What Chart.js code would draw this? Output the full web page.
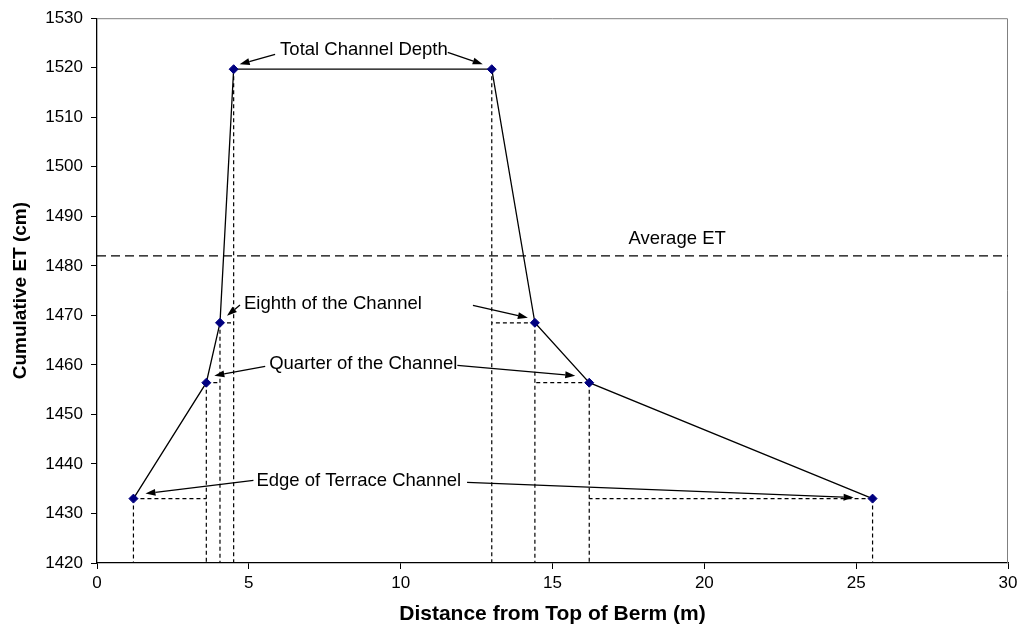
<!DOCTYPE html>
<html>
<head>
<meta charset="utf-8">
<script src="https://cdn.jsdelivr.net/npm/chart.js@4"></script>
<style>
  body { margin: 0; background: #fff; }
  #etChart { display: block; }
</style>
</head>
<body>
<canvas id="etChart" width="1023" height="635"></canvas>
<script>
// cross-section of the terrace channel, left edge to right edge
const distance = [1.2, 3.6, 4.05, 4.5, 13.0, 14.42, 16.21, 25.54];
const cumulativeET = [1433, 1456.4, 1468.5, 1519.7, 1519.7, 1468.5, 1456.4, 1433];
// index of the point whose distance each horizontal guide runs to (null = none)
const guideTo = [1, 2, 3, null, null, 4, 5, 6];
const averageET = 1482;

const xMin = 0, xMax = 30, xStep = 5;
const yMin = 1420, yMax = 1530, yStep = 10;

// callouts: text anchored by its left edge, arrows point at channel points
const callouts = [
  { text: 'Total Channel Depth', x: 6.03, y: 1523.5, arrows: [
    { from: 'left', dx: -5, dy: 4, to: 3, tip: [6, -5] },
    { from: 'right', dx: 0, dy: 2, to: 4, tip: [-9, -5] }
  ] },
  { text: 'Eighth of the Channel', x: 4.84, y: 1472.3, arrows: [
    { from: 'left', dx: -4, dy: 1, to: 2, tip: [7, -7] },
    { from: [12.38, 1472], to: 5, tip: [-7, -5] }
  ] },
  { text: 'Quarter of the Channel', x: 5.67, y: 1460.1, arrows: [
    { from: 'left', dx: -4, dy: 2, to: 1, tip: [8, -7] },
    { from: 'right', dx: 0, dy: 1, to: 6, tip: [-14, -7] }
  ] },
  { text: 'Edge of Terrace Channel', x: 5.25, y: 1436.5, arrows: [
    { from: 'left', dx: -3, dy: -1, to: 0, tip: [12, -5] },
    { from: 'right', dx: 6, dy: 1, to: 7, tip: [-19, -1] }
  ] },
  { text: 'Average ET', x: 17.5, y: 1485.5, arrows: [] }
];

const FONT = "'Liberation Sans', Arial, sans-serif";

document.addEventListener('DOMContentLoaded', () => {
  const points = distance.map((x, i) => ({ x, y: cumulativeET[i] }));

  // dashed drop lines to the axis plus the short horizontal guides
  const guides = [];
  distance.forEach((x, i) => {
    guides.push({ x, y: cumulativeET[i] }, { x, y: yMin }, { x, y: null });
    if (guideTo[i] !== null) {
      guides.push({ x, y: cumulativeET[i] }, { x: distance[guideTo[i]], y: cumulativeET[i] }, { x, y: null });
    }
  });

  const drawArrow = (ctx, x1, y1, x2, y2) => {
    const ang = Math.atan2(y2 - y1, x2 - x1);
    const len = 10, half = 3.5;
    const bx = x2 - len * Math.cos(ang), by = y2 - len * Math.sin(ang);
    ctx.beginPath();
    ctx.moveTo(x1, y1);
    ctx.lineTo(bx, by);
    ctx.stroke();
    ctx.beginPath();
    ctx.moveTo(x2, y2);
    ctx.lineTo(bx + half * Math.sin(ang), by - half * Math.cos(ang));
    ctx.lineTo(bx - half * Math.sin(ang), by + half * Math.cos(ang));
    ctx.closePath();
    ctx.fill();
  };

  const plotFrame = {
    id: 'plotFrame',
    beforeDatasetsDraw(chart) {
      const { ctx, chartArea: a } = chart;
      ctx.save();
      ctx.strokeStyle = '#808080';
      ctx.lineWidth = 1;
      ctx.beginPath();
      ctx.moveTo(a.left, a.top + 0.5);
      ctx.lineTo(a.right - 0.5, a.top + 0.5);
      ctx.lineTo(a.right - 0.5, a.bottom);
      ctx.stroke();
      ctx.restore();
    }
  };

  const calloutPlugin = {
    id: 'callouts',
    afterDatasetsDraw(chart) {
      const { ctx, scales: { x, y } } = chart;
      ctx.save();
      ctx.font = `18.5px ${FONT}`;
      ctx.fillStyle = '#000';
      ctx.strokeStyle = '#000';
      ctx.lineWidth = 1.3;
      ctx.textBaseline = 'middle';
      callouts.forEach(c => {
        const left = x.getPixelForValue(c.x);
        const cy = y.getPixelForValue(c.y);
        const w = ctx.measureText(c.text).width;
        ctx.fillText(c.text, left, cy);
        c.arrows.forEach(a => {
          let fx, fy;
          if (a.from === 'left') { fx = left + a.dx; fy = cy + a.dy; }
          else if (a.from === 'right') { fx = left + w + a.dx; fy = cy + a.dy; }
          else { fx = x.getPixelForValue(a.from[0]); fy = y.getPixelForValue(a.from[1]); }
          const tx = x.getPixelForValue(distance[a.to]) + a.tip[0];
          const ty = y.getPixelForValue(cumulativeET[a.to]) + a.tip[1];
          drawArrow(ctx, fx, fy, tx, ty);
        });
      });
      ctx.restore();
    }
  };

  const ctx = document.querySelector('#etChart').getContext('2d');
  new Chart(ctx, {
    type: 'line',
    data: {
      datasets: [{
        label: 'Cumulative ET',
        data: points,
        borderColor: '#000',
        borderWidth: 1.3,
        pointStyle: 'rectRot',
        pointRadius: 4.5,
        pointBackgroundColor: '#000080',
        pointBorderColor: '#000080',
        pointBorderWidth: 1
      }, {
        label: 'Guides',
        data: guides,
        borderColor: '#000',
        borderWidth: 1.2,
        borderDash: [4, 3],
        pointRadius: 0,
        spanGaps: false
      }, {
        label: 'Average ET',
        data: [{ x: xMin, y: averageET }, { x: xMax, y: averageET }],
        borderColor: '#000',
        borderWidth: 1.2,
        borderDash: [9, 5],
        pointRadius: 0
      }]
    },
    options: {
      responsive: false,
      animation: false,
      layout: { padding: { top: 13, right: 15, left: 0, bottom: 0 } },
      plugins: {
        legend: { display: false },
        tooltip: { enabled: false }
      },
      scales: {
        x: {
          type: 'linear',
          min: xMin,
          max: xMax,
          afterFit: scale => { scale.height = 72; },
          ticks: {
            stepSize: xStep,
            color: '#000',
            padding: 4,
            font: { family: FONT, size: 17 },
            callback: v => String(v)
          },
          grid: { drawOnChartArea: false, drawTicks: true, tickLength: 6, color: '#000' },
          border: { color: '#000', width: 1.3 },
          title: {
            display: true,
            text: 'Distance from Top of Berm (m)',
            color: '#000',
            font: { family: FONT, size: 21, weight: 'bold' },
            padding: { top: 0, bottom: 8 }
          }
        },
        y: {
          type: 'linear',
          min: yMin,
          max: yMax,
          afterFit: scale => { scale.width = 97; },
          ticks: {
            stepSize: yStep,
            color: '#000',
            padding: 8,
            font: { family: FONT, size: 17 },
            callback: v => String(v)
          },
          grid: { drawOnChartArea: false, drawTicks: true, tickLength: 6, color: '#000' },
          border: { color: '#000', width: 1.3 },
          title: {
            display: true,
            text: 'Cumulative ET (cm)',
            color: '#000',
            font: { family: FONT, size: 19, weight: 'bold' },
            padding: { top: 9, bottom: 0 }
          }
        }
      }
    },
    plugins: [plotFrame, calloutPlugin]
  });
});
</script>
</body>
</html>
